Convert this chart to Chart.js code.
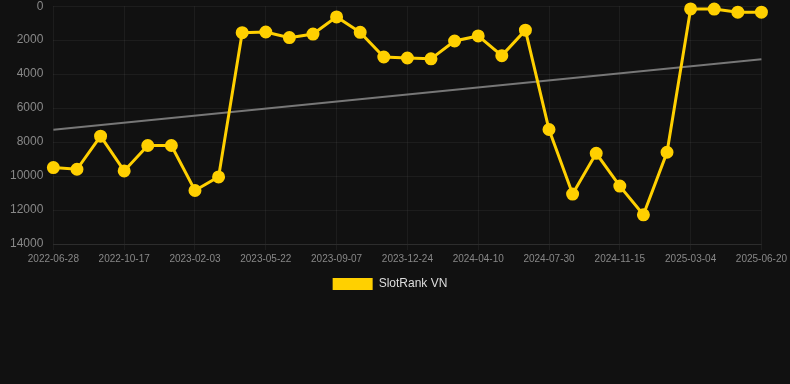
<!DOCTYPE html>
<html>
<head>
<meta charset="utf-8">
<script src="https://cdn.jsdelivr.net/npm/chart.js@4/dist/chart.umd.min.js"></script>
<style>
  html, body { margin: 0; padding: 0; background: #111111; overflow: hidden; }
  #wrap { width: 790px; height: 311px; position: relative; margin-top: -11px; }
</style>
</head>
<body>
<div id="wrap"><canvas id="c"></canvas></div>
<script>
const labels = [
  "2022-06-28","2022-08-04","2022-09-10","2022-10-17","2022-11-22","2022-12-28",
  "2023-02-03","2023-03-11","2023-04-16","2023-05-22","2023-06-27","2023-08-02",
  "2023-09-07","2023-10-13","2023-11-18","2023-12-24","2024-01-29","2024-03-05",
  "2024-04-10","2024-05-17","2024-06-23","2024-07-30","2024-09-04","2024-10-10",
  "2024-11-15","2024-12-21","2025-01-26","2025-03-04","2025-04-09","2025-05-15",
  "2025-06-20"
];
const rankValues = [
  9500, 9600, 7650, 9700, 8200, 8200,
  10850, 10050, 1560, 1520, 1850, 1640,
  630, 1540, 2990, 3050, 3100, 2050,
  1750, 2910, 1410, 7260, 11060, 8660,
  10590, 12280, 8600, 160, 170, 350,
  350
];
const trendStart = 7270;
const trendEnd = 3130;
const trendValues = labels.map((_, i) => i === 0 ? trendStart : (i === labels.length - 1 ? trendEnd : null));
const yTicks = [0, 2000, 4000, 6000, 8000, 10000, 12000, 14000];

new Chart(document.getElementById('c'), {
  type: 'line',
  data: {
    labels: labels,
    datasets: [
      {
        label: 'SlotRank VN',
        data: rankValues,
        borderColor: '#FFD000',
        backgroundColor: '#FFD000',
        borderWidth: 3,
        pointRadius: 5,
        pointHoverRadius: 5,
        pointBackgroundColor: '#FFD000',
        pointBorderColor: '#FFD000',
        tension: 0,
        clip: false,
        order: 1
      },
      {
        label: 'trend',
        data: trendValues,
        borderColor: '#777777',
        borderWidth: 2,
        pointRadius: 0,
        spanGaps: true,
        fill: false,
        order: 2
      }
    ]
  },
  options: {
    responsive: true,
    maintainAspectRatio: false,
    animation: false,
    layout: { padding: { left: 0, right: 10, top: 0, bottom: 0 } },
    plugins: {
      legend: {
        position: 'bottom',
        labels: {
          color: '#dddddd',
          font: { family: 'Arial, "Liberation Sans", sans-serif', size: 12 },
          boxWidth: 40,
          boxHeight: 12,
          generateLabels: (chart) => {
            const items = Chart.defaults.plugins.legend.labels.generateLabels(chart);
            return items.filter(it => it.text !== 'trend').map(it => Object.assign(it, { lineWidth: 0, strokeStyle: 'rgba(0,0,0,0)' }));
          }
        }
      },
      tooltip: { enabled: false }
    },
    scales: {
      x: {
        grid: { color: 'rgba(255,255,255,0.05)', drawTicks: true, tickLength: 6 },
        border: { color: 'rgba(255,255,255,0.08)' },
        ticks: {
          color: '#888888',
          font: { family: 'Arial, "Liberation Sans", sans-serif', size: 10 },
          maxRotation: 0,
          autoSkip: true,
          maxTicksLimit: 11
        }
      },
      y: {
        reverse: true,
        min: 0,
        max: 14000,
        afterBuildTicks: (axis) => { axis.ticks = yTicks.map(v => ({ value: v })); },
        grid: { color: 'rgba(255,255,255,0.05)', drawTicks: false },
        border: { display: false },
        ticks: {
          color: '#888888',
          font: { family: 'Arial, "Liberation Sans", sans-serif', size: 12 },
          padding: 10,
          callback: (v) => String(v)
        }
      }
    }
  }
});
</script>
</body>
</html>
